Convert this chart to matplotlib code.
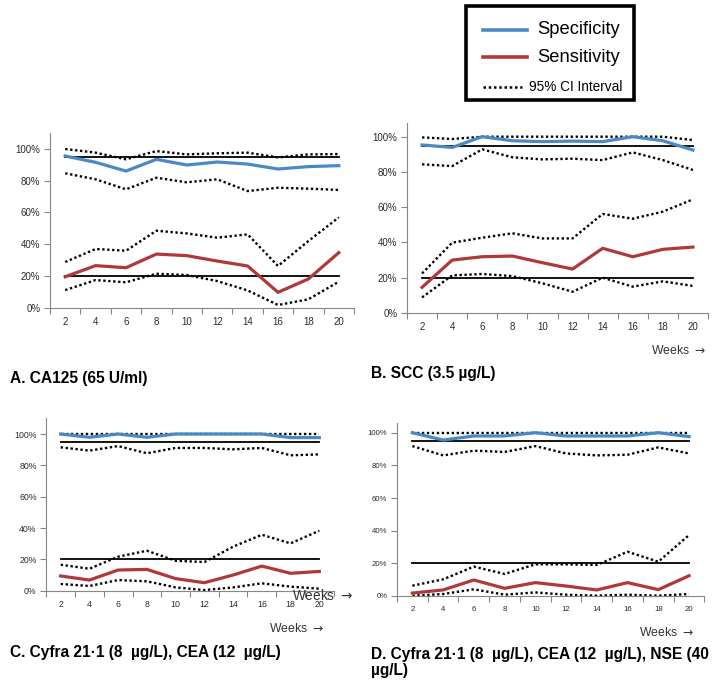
import numpy as np
import matplotlib
matplotlib.use("Agg")
import matplotlib.pyplot as plt
from matplotlib.lines import Line2D
from matplotlib.patches import Rectangle
from matplotlib.ticker import FixedLocator, PercentFormatter, NullFormatter

plt.rcParams['font.family'] = ['Liberation Sans', 'DejaVu Sans']
plt.rcParams['mathtext.fontset'] = 'dejavusans'

weeks = [2, 4, 6, 8, 10, 12, 14, 16, 18, 20]
spec_target = 95
sens_target = 20

# A. CA125
a_spec = [95.6, 91.6, 86.1, 93.5, 89.9, 91.8, 90.5, 87.4, 88.9, 89.5]
a_spec_hi = [100, 97.7, 93.5, 98.7, 96.6, 97.3, 97.7, 94.7, 96.6, 96.8]
a_spec_lo = [84.7, 80.9, 74.6, 81.9, 79.0, 80.9, 73.5, 75.6, 75.0, 74.2]
a_sens = [19.5, 26.5, 25.2, 33.8, 32.8, 29.4, 26.3, 9.7, 18.1, 34.7]
a_sens_hi = [28.8, 37.0, 35.9, 48.5, 46.8, 44.1, 46.2, 26.3, 42.0, 56.9]
a_sens_lo = [11.1, 17.4, 16.0, 21.4, 20.6, 16.8, 10.9, 1.7, 5.3, 16.4]

# B. SCC
b_spec = [95.3, 93.9, 100, 97.7, 97.2, 97.5, 97.2, 100, 97.7, 92.4]
b_spec_hi = [99.6, 98.7, 100, 100, 100, 100, 100, 100, 100, 98.1]
b_spec_lo = [84.3, 83.3, 92.8, 88.3, 87.1, 87.5, 86.7, 91.1, 86.7, 81.1]
b_sens = [14.4, 29.9, 31.8, 32.2, 28.4, 24.8, 36.6, 31.8, 36.0, 37.3]
b_sens_hi = [22.3, 39.8, 42.6, 45.1, 42.2, 42.2, 56.1, 53.4, 57.4, 64.4]
b_sens_lo = [8.7, 21.2, 22.0, 20.8, 16.7, 11.9, 19.9, 14.8, 17.8, 15.2]

# C. Cyfra 21-1 + CEA
c_spec = [100, 97.9, 100, 97.9, 100, 100, 100, 100, 97.7, 97.7]
c_spec_hi = [100, 100, 100, 100, 100, 100, 100, 100, 100, 100]
c_spec_lo = [91.5, 89.4, 92.3, 87.7, 91.1, 91.1, 90.2, 91.1, 86.4, 87.0]
c_sens = [9.4, 6.8, 13.2, 13.6, 7.7, 5.1, 10.0, 15.7, 11.1, 12.3]
c_sens_hi = [16.6, 14.0, 21.7, 25.5, 19.1, 18.3, 28.1, 35.7, 30.2, 38.3]
c_sens_lo = [4.3, 3.0, 6.8, 6.0, 2.1, 0.4, 2.1, 4.7, 2.6, 1.3]

# D. Cyfra 21-1 + CEA + NSE
d_spec = [100, 95.5, 98.0, 98.0, 100, 98.0, 98.0, 98.0, 100, 97.6]
d_spec_hi = [100, 100, 100, 100, 100, 100, 100, 100, 100, 100]
d_spec_lo = [91.8, 86.1, 89.0, 88.2, 91.8, 87.3, 86.1, 86.5, 91.0, 87.3]
d_sens = [1.8, 3.7, 9.8, 4.7, 8.2, 6.1, 3.7, 8.2, 3.9, 12.4]
d_sens_hi = [6.3, 10.2, 18.0, 13.5, 19.4, 19.4, 19.0, 27.1, 21.0, 37.3]
d_sens_lo = [0.2, 1.2, 4.1, 0.8, 2.2, 0.8, 0.2, 0.8, 0.2, 1.2]

BLUE = '#4A88C6'
RED = '#B03838'
W, H = 716, 685

fig = plt.figure(figsize=(W / 100, H / 100), dpi=100)


def make_axes(left, right, y0, y100, ytop):
    # pixel geometry -> figure fraction
    per = (y0 - y100) / 100.0
    top = (y0 - ytop) / per
    rect = [left / W, (H - y0) / H, (right - left) / W, (y0 - ytop) / H]
    ax = fig.add_axes(rect)
    return ax, top


def draw_panel(ax, top, spec, spec_hi, spec_lo, sens, sens_hi, sens_lo, fs):
    x = np.arange(len(weeks))
    dot = dict(color='black', lw=1.7, ls=(0, (1, 1.1)))
    ax.plot(x, spec_hi, **dot)
    ax.plot(x, spec_lo, **dot)
    ax.plot(x, sens_hi, **dot)
    ax.plot(x, sens_lo, **dot)
    ax.plot(x, [spec_target] * len(x), color='black', lw=1.3)
    ax.plot(x, [sens_target] * len(x), color='black', lw=1.3)
    ax.plot(x, spec, color=BLUE, lw=2.3, solid_joinstyle='round')
    ax.plot(x, sens, color=RED, lw=2.3, solid_joinstyle='round')

    ax.set_xlim(-0.5, len(x) - 0.5)
    ax.set_ylim(0, top)
    ax.xaxis.set_major_locator(FixedLocator(np.arange(-0.5, len(x), 1.0)))
    ax.xaxis.set_major_formatter(NullFormatter())
    ax.xaxis.set_minor_locator(FixedLocator(x))
    ax.set_xticklabels([str(w) for w in weeks], minor=True)
    ax.tick_params(axis='x', which='major', length=4, width=0.8, color='#868686')
    ax.tick_params(axis='x', which='minor', length=0, pad=7, labelsize=fs,
                   labelcolor='#2b2b2b')
    ax.set_yticks([0, 20, 40, 60, 80, 100])
    ax.yaxis.set_major_formatter(PercentFormatter(decimals=0))
    ax.tick_params(axis='y', length=4, width=0.8, color='#868686', pad=3,
                   labelsize=fs, labelcolor='#2b2b2b')
    for s in ('top', 'right'):
        ax.spines[s].set_visible(False)
    for s in ('left', 'bottom'):
        ax.spines[s].set_color('#868686')
        ax.spines[s].set_linewidth(0.8)


ax_a, ta = make_axes(50, 354, 307.7, 149, 133)
draw_panel(ax_a, ta, a_spec, a_spec_hi, a_spec_lo, a_sens, a_sens_hi, a_sens_lo, 7)
ax_b, tb = make_axes(407, 708, 312.7, 136.7, 123)
draw_panel(ax_b, tb, b_spec, b_spec_hi, b_spec_lo, b_sens, b_sens_hi, b_sens_lo, 7)
ax_c, tc = make_axes(46.3, 333.7, 590.7, 434, 418)
draw_panel(ax_c, tc, c_spec, c_spec_hi, c_spec_lo, c_sens, c_sens_hi, c_sens_lo, 6.3)
ax_d, td = make_axes(397, 704.4, 596, 432.7, 423)
draw_panel(ax_d, td, d_spec, d_spec_hi, d_spec_lo, d_sens, d_sens_hi, d_sens_lo, 5.6)


def fx(px):
    return px / W


def fy(py):
    return 1 - py / H


# panel captions
bold = dict(fontweight='bold', color='black', va='center', ha='left')
fig.text(fx(10), fy(378), 'A. CA125 (65 U/ml)', fontsize=11.2, **bold)
fig.text(fx(371), fy(374), 'B. SCC (3.5 µg/L)', fontsize=11.2, **bold)
fig.text(fx(10), fy(653), 'C. Cyfra 21·1 (8  µg/L), CEA (12  µg/L)', fontsize=11.2, **bold)
fig.text(fx(371), fy(655), 'D. Cyfra 21·1 (8  µg/L), CEA (12  µg/L), NSE (40', fontsize=11.2, **bold)
fig.text(fx(371), fy(671), 'µg/L)', fontsize=11.2, **bold)

# x direction notes; the arrow comes from mathtext (DejaVu glyph)
wk = 'Weeks $\\rightarrow$'
fig.text(fx(651), fy(350), wk, fontsize=8.8, color='#333333', va='center', ha='left')
fig.text(fx(269), fy(629), wk, fontsize=8.8, color='#333333', va='center', ha='left')
fig.text(fx(639), fy(633), wk, fontsize=8.8, color='#333333', va='center', ha='left')
fig.text(fx(292), fy(596), wk, fontsize=9.8, color='#333333', va='center', ha='left')

# legend box
box = Rectangle((fx(466), fy(100)), fx(634) - fx(466), fy(6) - fy(100),
                transform=fig.transFigure, fill=False, ec='black', lw=2.6)
fig.add_artist(box)
fig.add_artist(Line2D([fx(483), fx(527)], [fy(30), fy(30)], transform=fig.transFigure,
                      color=BLUE, lw=2.6))
fig.add_artist(Line2D([fx(483), fx(527)], [fy(57), fy(57)], transform=fig.transFigure,
                      color=RED, lw=2.6))
fig.add_artist(Line2D([fx(483), fx(522)], [fy(87), fy(87)], transform=fig.transFigure,
                      color='black', lw=1.8, ls=(0, (1, 1.1))))
fig.text(fx(537), fy(30), 'Specificity', fontsize=13.2, color='black', va='center', ha='left')
fig.text(fx(537), fy(57), 'Sensitivity', fontsize=13.2, color='black', va='center', ha='left')
fig.text(fx(529), fy(87), '95% CI Interval', fontsize=9.8, color='black', va='center', ha='left')

fig.savefig('out.png', dpi=100, facecolor='white')
